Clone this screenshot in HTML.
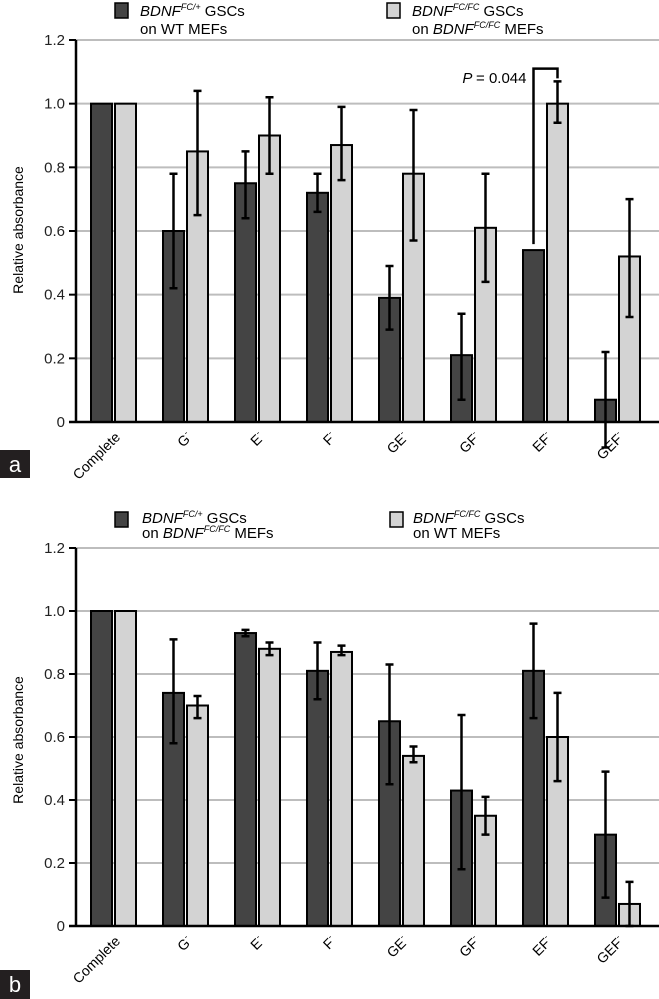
<!DOCTYPE html>
<html><head><meta charset="utf-8"><style>
body{margin:0;background:#fff;}
svg{display:block;font-family:"Liberation Sans",Arial,sans-serif;}
</style></head><body>
<svg id="s" width="659" height="999" viewBox="0 0 659 999">
<g>
<rect x="115" y="3" width="13" height="15" fill="#444" stroke="#000" stroke-width="1.5"/>
<text x="140" y="16" font-size="15"><tspan font-style="italic">BDNF</tspan><tspan font-style="italic" font-size="9" dy="-6">FC/+</tspan><tspan dy="6"> GSCs</tspan></text>
<text x="140" y="34" font-size="15">on WT MEFs</text>
<rect x="387" y="3" width="13" height="15" fill="#d3d3d3" stroke="#000" stroke-width="1.5"/>
<text x="412" y="16" font-size="15"><tspan font-style="italic">BDNF</tspan><tspan font-style="italic" font-size="9" dy="-6">FC/FC</tspan><tspan dy="6"> GSCs</tspan></text>
<text x="412" y="34" font-size="15">on <tspan font-style="italic">BDNF</tspan><tspan font-style="italic" font-size="9" dy="-6">FC/FC</tspan><tspan dy="6"> MEFs</tspan></text>
</g>
<g>
<rect x="115" y="512" width="13" height="15" fill="#444" stroke="#000" stroke-width="1.5"/>
<text x="142" y="523" font-size="15"><tspan font-style="italic">BDNF</tspan><tspan font-style="italic" font-size="9" dy="-6">FC/+</tspan><tspan dy="6"> GSCs</tspan></text>
<text x="142" y="538" font-size="15">on <tspan font-style="italic">BDNF</tspan><tspan font-style="italic" font-size="9" dy="-6">FC/FC</tspan><tspan dy="6"> MEFs</tspan></text>
<rect x="390" y="512" width="13" height="15" fill="#d3d3d3" stroke="#000" stroke-width="1.5"/>
<text x="413" y="523" font-size="15"><tspan font-style="italic">BDNF</tspan><tspan font-style="italic" font-size="9" dy="-6">FC/FC</tspan><tspan dy="6"> GSCs</tspan></text>
<text x="413" y="538" font-size="15">on WT MEFs</text>
</g>
<g><rect x="0" y="450" width="30" height="28" fill="#231f20"/><text x="15" y="472" font-size="22" fill="#fff" text-anchor="middle">a</text></g>
<g><rect x="0" y="970" width="30" height="29" fill="#231f20"/><text x="15" y="992" font-size="22" fill="#fff" text-anchor="middle">b</text></g>
</svg>
<script>
const categories=["Complete","G","E","F","GE","GF","EF","GEF"];
const aDark=[1.0,0.60,0.75,0.72,0.39,0.21,0.54,0.07];
const aDarkLo=[1.0,0.42,0.64,0.66,0.29,0.07,0.54,-0.08];
const aDarkHi=[1.0,0.78,0.85,0.78,0.49,0.34,0.54,0.22];
const aLight=[1.0,0.85,0.90,0.87,0.78,0.61,1.00,0.52];
const aLightLo=[1.0,0.65,0.78,0.76,0.57,0.44,0.94,0.33];
const aLightHi=[1.0,1.04,1.02,0.99,0.98,0.78,1.07,0.70];
const bDark=[1.0,0.74,0.93,0.81,0.65,0.43,0.81,0.29];
const bDarkLo=[1.0,0.58,0.92,0.72,0.45,0.18,0.66,0.09];
const bDarkHi=[1.0,0.91,0.94,0.90,0.83,0.67,0.96,0.49];
const bLight=[1.0,0.70,0.88,0.87,0.54,0.35,0.60,0.07];
const bLightLo=[1.0,0.66,0.86,0.86,0.52,0.29,0.46,0.00];
const bLightHi=[1.0,0.73,0.90,0.89,0.57,0.41,0.74,0.14];
const yTicks=[0,0.2,0.4,0.6,0.8,1.0,1.2];
const yTickLabels=["0","0.2","0.4","0.6","0.8","1.0","1.2"];
const pValueText="= 0.044";
const svg=document.getElementById('s');
const NS='http://www.w3.org/2000/svg';
function mk(t,a,p){const e=document.createElementNS(NS,t);for(const k in a)e.setAttribute(k,a[k]);(p||svg).appendChild(e);return e;}
function chart(id,y0,y12,dark,dLo,dHi,light,lLo,lHi,titleY){
  const g=mk('g',{});
  
  
  const ax=76;
  const ys=v=>y0-(v/1.2)*(y0-y12);
  const xs=i=>91+i*72;
  yTicks.forEach((t,i)=>{
    if(t>0){const gl=mk('line',{x1:ax,x2:659,y1:ys(t),y2:ys(t),stroke:'#bdbdbd','stroke-width':2},g);
    
    }
    const tk=mk('line',{x1:ax-7,x2:ax,y1:ys(t),y2:ys(t),stroke:'#000','stroke-width':2},g);
    
    
    const tl=mk('text',{x:ax-11,y:ys(t)+5,'font-size':15,'text-anchor':'end',fill:'#222'},g);
    tl.textContent=yTickLabels[i];
    
    
  });
  const tt=mk('text',{x:0,y:0,'font-size':14,'text-anchor':'middle',transform:`translate(23,${titleY}) rotate(-90)`},g);
  tt.textContent='Relative absorbance';
  
  
  categories.forEach((c,i)=>{
    const x=xs(i);
    [[dark,dLo,dHi,'#444',x,'dark'],[light,lLo,lHi,'#d3d3d3',x+24,'light']].forEach(s=>{
      const v=s[0][i],bx=s[4];
      const r=mk('rect',{x:bx,y:ys(Math.max(v,0)),width:21,height:ys(0)-ys(Math.max(v,0)),fill:s[3],stroke:'#000','stroke-width':2},g);
      
      
      const lo=s[1][i],hi=s[2][i];
      if(hi>lo){
        const cx=bx+10.5;
        const e=mk('path',{d:`M${cx},${ys(lo)}V${ys(hi)}M${cx-4},${ys(hi)}H${cx+4}M${cx-4},${ys(lo)}H${cx+4}`,stroke:'#000','stroke-width':2.5,fill:'none'},g);
        
        
      }
    });
    const lx=x+30,ly=y0+16;
    const lab=mk('text',{x:lx,y:ly,'font-size':14,'text-anchor':'end',transform:`rotate(-45 ${lx} ${ly})`},g);
    lab.textContent=c;
    if(i>0){const sp=mk('tspan',{'font-size':9,dy:-6},lab);sp.textContent='-';}
    
    
  });
  const axl=mk('path',{d:`M${ax},${ys(1.2)}V${y0}M${ax-7},${y0}H659`,stroke:'#000','stroke-width':2.5,fill:'none'},g);
  
  
  return {ys,xs};
}
const A=chart('a',422,40,aDark,aDarkLo,aDarkHi,aLight,aLightLo,aLightHi,230);
chart('b',926,548,bDark,bDarkLo,bDarkHi,bLight,bLightLo,bLightHi,740);
const bIdx=6,bracketX1=A.xs(bIdx)+10.5,bracketX2=A.xs(bIdx)+34.5,bracketTop=A.ys(1.11);
const br=mk('path',{d:`M${bracketX1},${A.ys(aDarkHi[bIdx])-6}V${bracketTop}H${bracketX2}V${A.ys(aLightHi[bIdx])-3}`,stroke:'#000','stroke-width':2.5,fill:'none'});


const pt=mk('text',{x:bracketX1-7,y:A.ys(1.08)+5,'font-size':15,'text-anchor':'end'});
const pi=mk('tspan',{'font-style':'italic'},pt);pi.textContent='P ';
const pr=mk('tspan',{},pt);pr.textContent=pValueText;


</script>
</body></html>
